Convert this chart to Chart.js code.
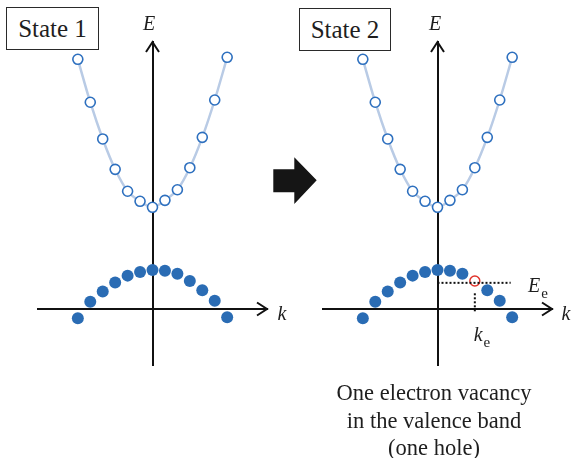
<!DOCTYPE html>
<html><head><meta charset="utf-8">
<script src="https://cdn.jsdelivr.net/npm/chart.js@4.4.1/dist/chart.umd.min.js"></script>
<style>
html,body{margin:0;padding:0;background:#fff;}
#wrap{position:relative;width:573px;height:458px;overflow:hidden;font-family:"Liberation Serif","Times New Roman",serif;color:#1e1e1e;}
canvas{position:absolute;top:0;}
.lbl{position:absolute;white-space:nowrap;line-height:1;transform:translate(-50%,-50%);}
.it{font-style:italic;font-size:20px;}
.sub{font-style:normal;font-size:15px;position:relative;top:6px;margin-left:1px;}
.box{position:absolute;border:1.5px solid #2a2a2a;box-sizing:border-box;font-size:25px;display:flex;align-items:center;justify-content:center;background:#fff;}
#note{position:absolute;left:324px;top:379px;width:220px;text-align:center;font-size:22.5px;line-height:27.5px;}
svg{position:absolute;left:0;top:0;}
</style></head>
<body><div id="wrap">
<canvas id="c1" width="286" height="458" style="left:0px;width:286px;height:458px"></canvas>
<canvas id="c2" width="286" height="458" style="left:285px;width:286px;height:458px"></canvas>
<svg width="573" height="458"><polygon points="273.3,169.3 294.3,169.3 294.3,157.3 316.7,180.3 294.3,204 294.3,192.3 273.3,192.3" fill="#151515"/></svg>
<div class="box" style="left:6px;top:7px;width:93px;height:43px;">State 1</div>
<div class="box" style="left:299px;top:8px;width:92px;height:43px;">State 2</div>
<div class="lbl it" style="left:149px;top:23px;">E</div>
<div class="lbl it" style="left:435px;top:23px;">E</div>
<div class="lbl it" style="left:282px;top:313px;">k</div>
<div class="lbl it" style="left:566px;top:313px;">k</div>
<div class="lbl it" style="left:538px;top:285px;">E<span class="sub">e</span></div>
<div class="lbl it" style="left:482px;top:334px;">k<span class="sub">e</span></div>
<div id="note">One electron vacancy<br>in the valence band<br>(one hole)</div>
</div>
<script>
const kValues = [-6,-5,-4,-3,-2,-1,0,1,2,3,4,5,6];
const conductionE = [20.06,16.61,13.66,11.22,9.46,8.65,8.17,8.73,9.58,11.35,13.79,16.79,20.22];
const valenceE = [-0.75,0.59,1.41,2.13,2.68,2.97,3.13,3.07,2.84,2.25,1.50,0.67,-0.67];
const holeIndex = 9;
const kAxisRange = [-9.2, 9.2];
const eAxisRange = [-4.5, 21.45];
const holeLevelE = 2.1;
const holeGuideK = [0, 5.88];
const holeGuideE = [1.26, -0.22];

const pts = (ks, es) => ks.map((k, i) => ({x: k, y: es[i]}));

const arrowPlugin = {
  id: 'axisArrows',
  afterDraw(chart) {
    const {ctx, scales: {x, y}} = chart;
    const y0 = y.getPixelForValue(0), x0 = x.getPixelForValue(0);
    ctx.save();
    ctx.strokeStyle = '#111'; ctx.lineWidth = 2; ctx.lineCap = 'butt'; ctx.lineJoin = 'miter';
    ctx.beginPath();
    ctx.moveTo(x.right - 10, y0 - 6.5); ctx.lineTo(x.right, y0); ctx.lineTo(x.right - 10, y0 + 6.5);
    ctx.moveTo(x0 - 6.5, y.top + 10); ctx.lineTo(x0, y.top); ctx.lineTo(x0 + 6.5, y.top + 10);
    ctx.stroke();
    ctx.restore();
  }
};

function axisOpts(min, max, pos) {
  return {
    type: 'linear', min, max, position: pos,
    grid: {display: false, drawTicks: false},
    ticks: {display: false},
    border: {display: true, color: '#111', width: 2}
  };
}

function makeChart(id, withHole) {
  const datasets = [{
    type: 'line', data: pts(kValues, conductionE),
    borderColor: '#b9cbe5', borderWidth: 2.5, tension: 0.3,
    pointRadius: 5, pointBackgroundColor: '#fff', pointBorderColor: '#2e70bf', pointBorderWidth: 1.6, clip: false
  }];
  const vk = [], ve = [];
  kValues.forEach((k, i) => { if (!(withHole && i === holeIndex)) { vk.push(k); ve.push(valenceE[i]); } });
  datasets.push({
    type: 'scatter', data: pts(vk, ve), showLine: false,
    pointRadius: 6, pointBackgroundColor: '#2a6cb4', pointBorderWidth: 0, clip: false
  });
  if (withHole) {
    datasets.push({
      type: 'line', data: pts(holeGuideK, [holeLevelE, holeLevelE]),
      borderColor: '#111', borderWidth: 2, borderDash: [2, 2], pointRadius: 0, clip: false
    });
    datasets.push({
      type: 'line', data: pts([kValues[holeIndex], kValues[holeIndex]], holeGuideE),
      borderColor: '#111', borderWidth: 2, borderDash: [2, 2], pointRadius: 0, clip: false
    });
    datasets.push({
      type: 'scatter', data: pts([kValues[holeIndex]], [valenceE[holeIndex]]), showLine: false,
      pointRadius: 5, pointBackgroundColor: '#fff', pointBorderColor: '#e0322a', pointBorderWidth: 1.4, clip: false
    });
  }
  new Chart(document.getElementById(id), {
    type: 'scatter',
    data: {datasets},
    options: {
      responsive: false, animation: false, devicePixelRatio: 1,
      layout: {padding: {left: 38, right: 19, top: 42, bottom: 93}},
      plugins: {legend: {display: false}, tooltip: {enabled: false}},
      scales: {
        x: axisOpts(kAxisRange[0], kAxisRange[1], {y: 0}),
        y: axisOpts(eAxisRange[0], eAxisRange[1], {x: 0})
      }
    },
    plugins: [arrowPlugin]
  });
}
makeChart('c1', false);
makeChart('c2', true);
</script>
</body></html>
